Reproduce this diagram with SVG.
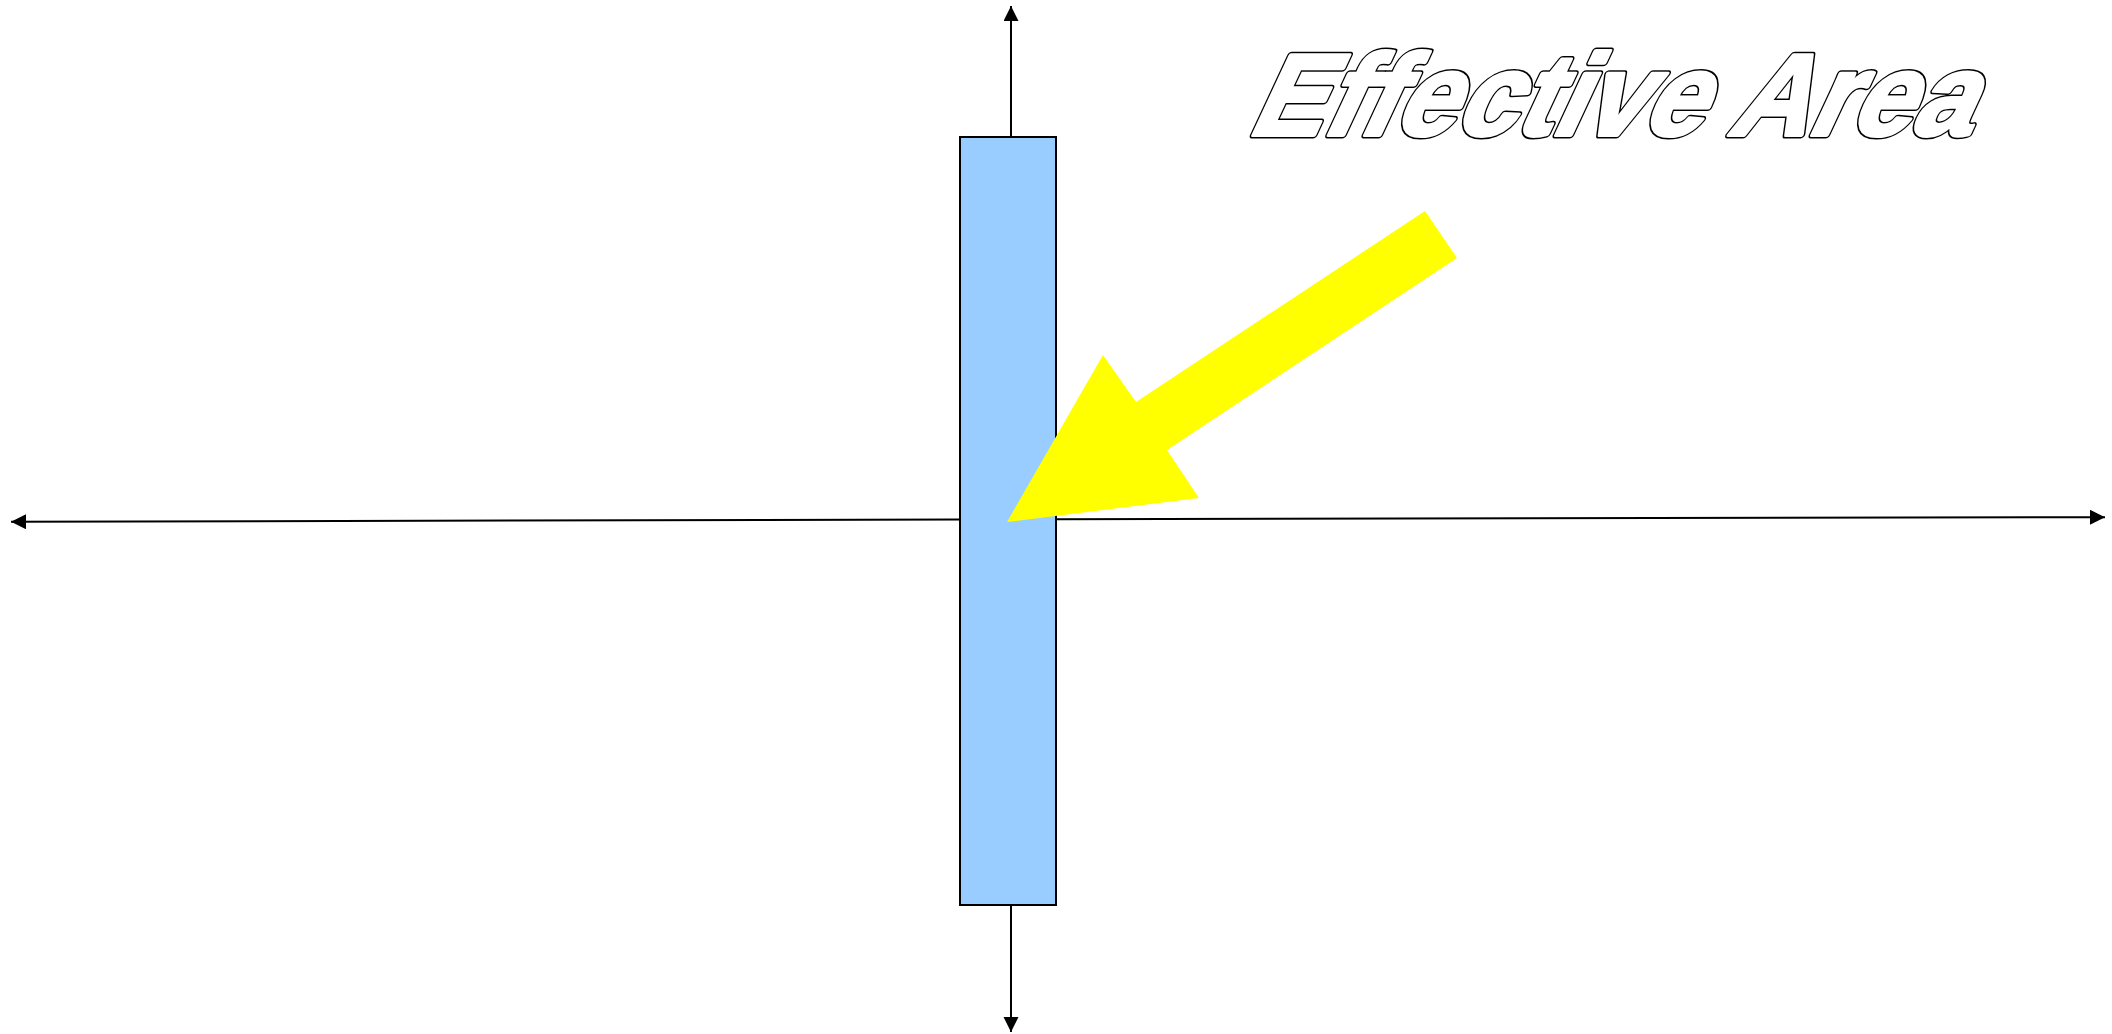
<svg xmlns="http://www.w3.org/2000/svg" width="2112" height="1034" viewBox="0 0 2112 1034">
<style>
.axis{stroke:#000;stroke-width:2;fill:none}
.title{font-family:"Liberation Sans",Arial,sans-serif;font-weight:bold;font-size:116px;stroke-linejoin:round}
.title-outline{fill:#000;stroke:#000;stroke-width:7}
.title-face{fill:#fff;stroke:#fff;stroke-width:4}
</style>
<defs>
<marker id="ah" markerWidth="16" markerHeight="16" refX="15" refY="7.5" orient="auto" markerUnits="userSpaceOnUse">
<path d="M0,0 L15,7.5 L0,15 Z" fill="#000"/>
</marker>
</defs>
<rect width="2112" height="1034" fill="#fff"/>
<g id="connectors">
<line class="axis" x1="1011" y1="137" x2="1011" y2="6" marker-end="url(#ah)"/>
<line class="axis" x1="1011" y1="905" x2="1011" y2="1032" marker-end="url(#ah)"/>
<line class="axis" x1="960" y1="519.5" x2="11" y2="521.8" marker-end="url(#ah)"/>
<line class="axis" x1="1056" y1="519.2" x2="2105" y2="517.2" marker-end="url(#ah)"/>
</g>
<g id="effective-area">
<rect x="960" y="137" width="96" height="768" fill="#99ccff" stroke="#000" stroke-width="2"/>
</g>
<g id="yellow-arrow">
<polygon points="1425,211 1457,258 1167,450 1199,498 1007,522 1103,355 1136,402" fill="#ffff00"/>
</g>
<g id="title">
<g transform="translate(1246,135) skewX(-25)">
<text class="title title-outline" x="0" y="0" textLength="722" lengthAdjust="spacingAndGlyphs">Effective Area</text>
<text class="title title-face" x="0" y="0" textLength="722" lengthAdjust="spacingAndGlyphs">Effective Area</text>
</g>
</g>
</svg>
